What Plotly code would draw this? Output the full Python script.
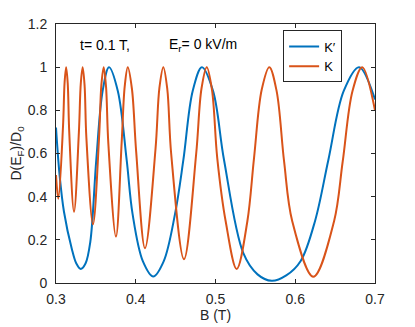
import plotly.graph_objects as go

# K' valley (blue)
kp_b = [0.3000, 0.3045, 0.3100, 0.3197, 0.3255, 0.3310, 0.3370, 0.3430, 0.3505, 0.3585, 0.3665,
        0.3775, 0.3886, 0.3960, 0.4090, 0.4220, 0.4350, 0.4492, 0.4597, 0.4714, 0.4830,
        0.4969, 0.5107, 0.5349, 0.5527, 0.5705, 0.5887, 0.6068, 0.6250, 0.6415, 0.6608,
        0.6800, 0.7000]
kp_d = [0.72, 0.50, 0.33, 0.16, 0.09, 0.065, 0.09, 0.19, 0.57, 0.89, 1.00,
        0.89, 0.57, 0.32, 0.10, 0.03, 0.10, 0.319, 0.57, 0.89, 1.00,
        0.89, 0.57, 0.138, 0.04, 0.01, 0.035, 0.102, 0.29, 0.57, 0.89,
        1.00, 0.85]

# K valley (orange)
k_b = [0.3000, 0.3029, 0.3088, 0.3108, 0.3127, 0.3147, 0.3166, 0.3226,
       0.3287, 0.3311, 0.3334, 0.3358, 0.3381, 0.3464,
       0.3540, 0.3569, 0.3598, 0.3627, 0.3656, 0.3752,
       0.3823, 0.3862, 0.3900, 0.3952, 0.4005, 0.4116,
       0.4248, 0.4297, 0.4346, 0.4395, 0.4444, 0.4605,
       0.4758, 0.4824, 0.4890, 0.4956, 0.5022, 0.5128, 0.5266, 0.5399,
       0.5483, 0.5579, 0.5675, 0.5766, 0.5860, 0.5963, 0.6227, 0.6486,
       0.6595, 0.6718, 0.6840, 0.7000]
k_d = [0.50, 0.39, 0.726, 0.93, 1.00, 0.925, 0.699, 0.33,
       0.699, 0.925, 1.00, 0.918, 0.673, 0.272,
       0.673, 0.918, 1.00, 0.912, 0.648, 0.215,
       0.648, 0.912, 1.00, 0.90, 0.61, 0.161,
       0.622, 0.905, 1.00, 0.90, 0.60, 0.11,
       0.60, 0.90, 1.00, 0.895, 0.579, 0.285, 0.065, 0.285,
       0.579, 0.895, 1.00, 0.89, 0.563, 0.285, 0.029, 0.285,
       0.563, 0.89, 1.00, 0.80]

x_ticks = [0.3, 0.4, 0.5, 0.6, 0.7]
x_text = ["0.3", "0.4", "0.5", "0.6", "0.7"]
y_ticks = [0, 0.2, 0.4, 0.6, 0.8, 1, 1.2]
y_text = ["0", "0.2", "0.4", "0.6", "0.8", "1", "1.2"]
axcol = "#262626"

fig = go.Figure()
fig.add_trace(go.Scatter(x=kp_b, y=kp_d, mode="lines", name="K\u2032",
                         line=dict(color="#0072BD", width=2, shape="spline", smoothing=1)))
fig.add_trace(go.Scatter(x=k_b, y=k_d, mode="lines", name="K",
                         line=dict(color="#D95319", width=2, shape="spline", smoothing=1)))

# page has an 8px body margin, so the figure is drawn 8px smaller and offset
fig.update_layout(
    width=407, height=319,
    margin=dict(l=48, r=40, t=16, b=44),
    paper_bgcolor="white", plot_bgcolor="white",
    font=dict(family="Liberation Sans, Arial", size=14, color=axcol),
    legend=dict(x=0.712, y=0.975, xanchor="left", yanchor="top",
                bgcolor="white", bordercolor=axcol, borderwidth=1,
                font=dict(size=13, color="black"), tracegroupgap=0),
    annotations=[
        dict(text="t= 0.1 T,", x=0.3, y=1.105, xref="x", yref="y", xanchor="left",
             xshift=22, showarrow=False, font=dict(size=14, color="black")),
        dict(text="E<sub>r</sub>= 0 kV/m", x=0.3, y=1.105, xref="x", yref="y", xanchor="left",
             xshift=111, showarrow=False, font=dict(size=14, color="black")),
    ],
)
fig.update_xaxes(range=[0.3, 0.7], tickvals=x_ticks, ticktext=x_text,
                 ticks="inside", ticklen=4, tickcolor=axcol, showline=True, linecolor=axcol,
                 linewidth=1, mirror="ticks", showgrid=False, zeroline=False,
                 ticklabelstandoff=3, automargin=False,
                 title=dict(text="B (T)", standoff=4, font=dict(size=14)))
fig.update_yaxes(range=[0, 1.2], tickvals=y_ticks, ticktext=y_text,
                 ticks="inside", ticklen=4, tickcolor=axcol, showline=True, linecolor=axcol,
                 linewidth=1, mirror="ticks", showgrid=False, zeroline=False,
                 ticklabelstandoff=5, automargin=False,
                 title=dict(text="D(E<sub>F</sub>)/D<sub>0</sub>", standoff=6, font=dict(size=14)))

fig.write_html("out.html")
